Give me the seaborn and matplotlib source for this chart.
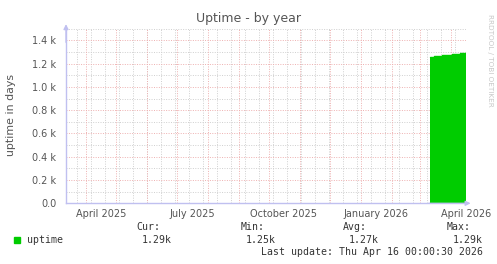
import matplotlib
matplotlib.use("Agg")
import matplotlib.pyplot as plt
import seaborn as sns
import pandas as pd
import numpy as np

# ---- data ----
step_dates = ["2026-03-11", "2026-03-15", "2026-03-23", "2026-04-02", "2026-04-10", "2026-04-16"]
uptime_days = [1254, 1265, 1275, 1284, 1292, 1292]
x_start = "2025-03-12"
x_end = "2026-04-16 00:00:30"
x_label_dates = ["2025-04-16", "2025-07-16", "2025-10-16", "2026-01-16", "2026-04-16"]
x_label_texts = ["April 2025", "July 2025", "October 2025", "January 2026", "April 2026"]
y_ticks = [0, 200, 400, 600, 800, 1000, 1200, 1400]
y_tick_labels = ["0.0", "0.2 k", "0.4 k", "0.6 k", "0.8 k", "1.0 k", "1.2 k", "1.4 k"]
legend_headers = ["Cur:", "Min:", "Avg:", "Max:"]
legend_values = ["1.29k", "1.25k", "1.27k", "1.29k"]
series_name = "uptime"
title = "Uptime - by year"
ylabel = "uptime in days"
last_update = "Last update: Thu Apr 16 00:00:30 2026"

sns.set_theme(style="white")
plt.rcParams['font.family'] = ['DejaVu Sans']

W, H = 497, 264
fig = plt.figure(figsize=(W / 100, H / 100), dpi=100)
fig.patch.set_facecolor("white")

L, R, T, B = 66, 466, 27.5, 203.3
ax = fig.add_axes([L / W, 1 - B / H, (R - L) / W, (B - T) / H])
ax.set_facecolor("white")

df = pd.DataFrame({"date": pd.to_datetime(step_dates), "uptime": uptime_days})
green = "#00cc00"
ax.fill_between(df["date"], 0, df["uptime"], step="post", color=green, linewidth=0, zorder=3)
sns.lineplot(data=df, x="date", y="uptime", drawstyle="steps-post", color=green, linewidth=1, ax=ax, zorder=4)

ax.set_xlim(pd.Timestamp(x_start), pd.Timestamp(x_end))
ax.set_ylim(0, 1510)

# grid
grey = "#cfcfcf"
red = "#eeb0b0"
dots = (0, (1, 1.5))
for yv in np.arange(100, 1510, 200):
    ax.axhline(yv, color=grey, lw=0.7, ls=dots, zorder=1)
for yv in np.arange(200, 1510, 200):
    ax.axhline(yv, color=red, lw=0.7, ls=dots, zorder=2)
for d in pd.date_range("2025-03-23", x_end, freq="14D"):
    ax.axvline(d, color=grey, lw=0.7, ls=dots, zorder=1)
for d in pd.date_range("2025-04-01", x_end, freq="MS"):
    ax.axvline(d, color=red, lw=0.7, ls=dots, zorder=2)

txt = "#555555"
ax.set_yticks(y_ticks)
ax.set_yticklabels(y_tick_labels)
ax.set_xticks(pd.to_datetime(x_label_dates))
ax.set_xticklabels(x_label_texts)
ax.tick_params(axis="y", length=2, width=0.7, color=grey, labelsize=7, labelcolor=txt, pad=5)
ax.tick_params(axis="x", length=0, labelsize=7, labelcolor=txt, pad=4)
ax.set_xlabel("")
ax.set_ylabel(ylabel, fontsize=7.9, color=txt)
ax.yaxis.set_label_coords((16 - L) / (R - L), 0.5)

for s in ["top", "right"]:
    ax.spines[s].set_visible(False)
axc = "#c0c0f0"
for s in ["left", "bottom"]:
    ax.spines[s].set_color(axc)
    ax.spines[s].set_linewidth(1)
ax.annotate("", xy=(0, 1.035), xytext=(0, 0.9), xycoords="axes fraction",
            arrowprops=dict(arrowstyle="-|>", color=axc, lw=1, mutation_scale=7), annotation_clip=False)
ax.annotate("", xy=(1.0185, 0), xytext=(0.9, 0), xycoords="axes fraction",
            arrowprops=dict(arrowstyle="-|>", color=axc, lw=1, mutation_scale=7), annotation_clip=False)

fig.text(248 / W, 1 - 18.5 / H, title, ha="center", va="center", fontsize=9, color=txt)
fig.text(490 / W, 1 - 60 / H, "RRDTOOL / TOBI OETIKER", rotation=270, ha="center", va="center",
         fontsize=5.2, color="#c8c8c8")

# legend
mono = "DejaVu Sans Mono"
lc = "#333333"
fs = 7.1
fig.patches.append(plt.Rectangle((13.5 / W, 1 - 243 / H), 6 / W, 6 / H, transform=fig.transFigure,
                                 color=green, figure=fig))
fig.text(27 / W, 1 - 240 / H, series_name, ha="left", va="center", fontsize=fs, family=mono, color=lc)
hdr_x = [136.7, 240.5, 343.3, 446.7]
val_right = [172, 275.5, 379, 483]
for hx, vr, h, v in zip(hdr_x, val_right, legend_headers, legend_values):
    fig.text(hx / W, 1 - 227.5 / H, h, ha="left", va="center", fontsize=fs, family=mono, color=lc)
    fig.text(vr / W, 1 - 240 / H, v, ha="right", va="center", fontsize=fs, family=mono, color=lc)
fig.text(483 / W, 1 - 251.7 / H, last_update, ha="right", va="center", fontsize=fs, family=mono, color=lc)

fig.savefig("out.png", dpi=100, facecolor="white")
